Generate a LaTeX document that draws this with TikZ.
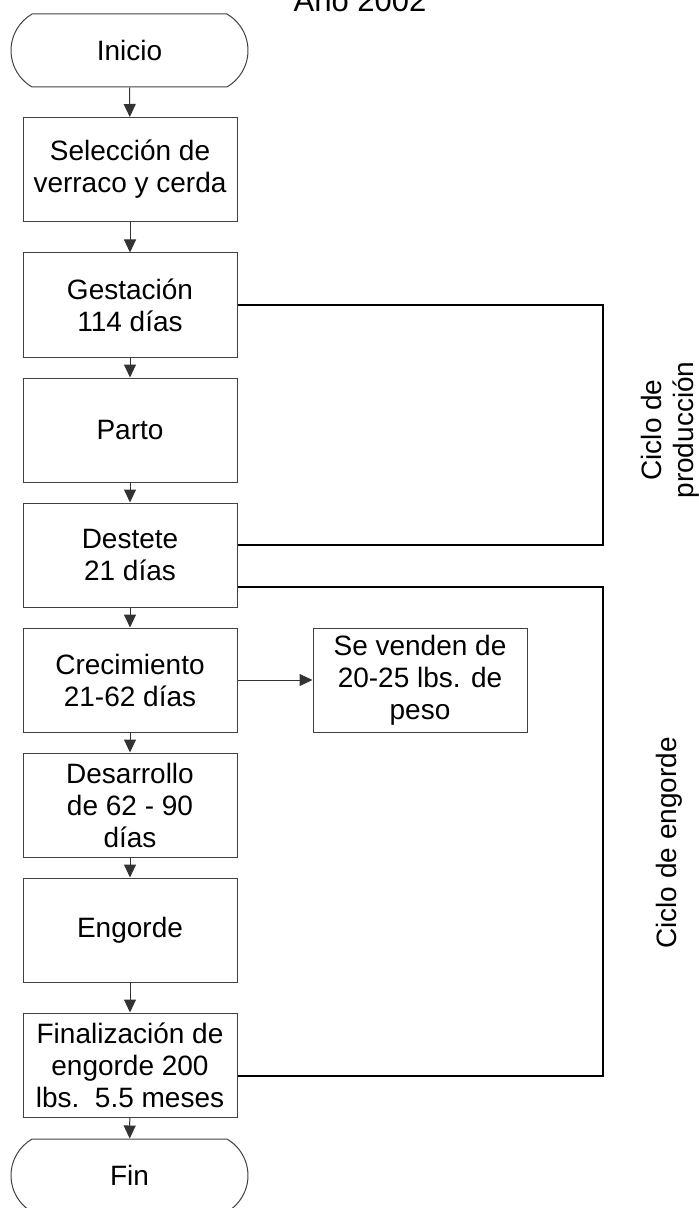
\documentclass[tikz,border=0pt]{standalone}
\usepackage{fontspec}
\setmainfont{Liberation Sans}
\usetikzlibrary{shapes.misc,arrows.meta}
\begin{document}
\begin{tikzpicture}[x=0.5pt, y=-0.5pt,
  paso/.style={shape=rectangle, draw=black!75, line width=0.5pt, minimum width=107pt, minimum height=52pt, inner sep=0pt, align=center, font=\fontsize{14}{16}\selectfont},
  borde/.style={shape=rounded rectangle, rounded rectangle arc length=120, draw=black!75, line width=0.5pt, minimum width=118.5pt, minimum height=36.5pt, inner sep=0pt, font=\fontsize{14}{16}\selectfont},
  flecha/.style={-{Triangle[length=6.5pt,width=6pt]}, draw=black!80, line width=0.5pt},
  ciclo/.style={draw=black, line width=1pt},
  rotulo/.style={rotate=90, align=center, font=\fontsize{14}{16}\selectfont}]
\useasboundingbox (0,0) rectangle (699,1208);
\node[anchor=base, font=\fontsize{15.5}{18}\selectfont] (titulo) at (360,12) {Año 2002};
\node[borde] (inicio) at (129.5,50.5) {Inicio};
\node[paso] (sel) at (130,169.5) {Selección de\\verraco y cerda};
\node[paso] (gest) at (130,305) {Gestación\\114 días};
\node[paso] (parto) at (130,430) {Parto};
\node[paso] (destete) at (130,555) {Destete\\21 días};
\node[paso] (crec) at (130,680) {Crecimiento\\21-62 días};
\node[paso] (venta) at (420,680) {Se venden de\\20-25 lbs. de\\peso};
\node[paso] (desa) at (130,805) {Desarrollo\\de 62 - 90\\días};
\node[paso] (engo) at (130,930) {Engorde};
\node[paso] (fina) at (130,1065) {Finalización de\\engorde 200\\lbs.\ \ 5.5 meses};
\node[borde] (fin) at (129.5,1175.5) {Fin};
\node[rotulo] (prod) at (670,430) {Ciclo de\\producción};
\node[rotulo] (engorde) at (669,843) {Ciclo de engorde};
\coordinate (prodA) at (603,305);
\coordinate (prodB) at (603,545);
\coordinate (engA) at (603,587);
\coordinate (engB) at (603,1076);
\draw[flecha] (inicio) -- (sel);
\draw[flecha] (sel) -- (gest);
\draw[flecha] (gest) -- (parto);
\draw[flecha] (parto) -- (destete);
\draw[flecha] (destete) -- (crec);
\draw[flecha] (crec) -- (desa);
\draw[flecha] (desa) -- (engo);
\draw[flecha] (engo) -- (fina);
\draw[flecha] (fina) -- (fin);
\draw[flecha] (crec) -- (venta);
\draw[ciclo] (gest.east) -- (prodA) -- (prodB) -- (destete.east |- prodB);
\draw[ciclo] (destete.east |- engA) -- (engA) -- (engB) -- (fina.east |- engB);
\end{tikzpicture}
\end{document}
